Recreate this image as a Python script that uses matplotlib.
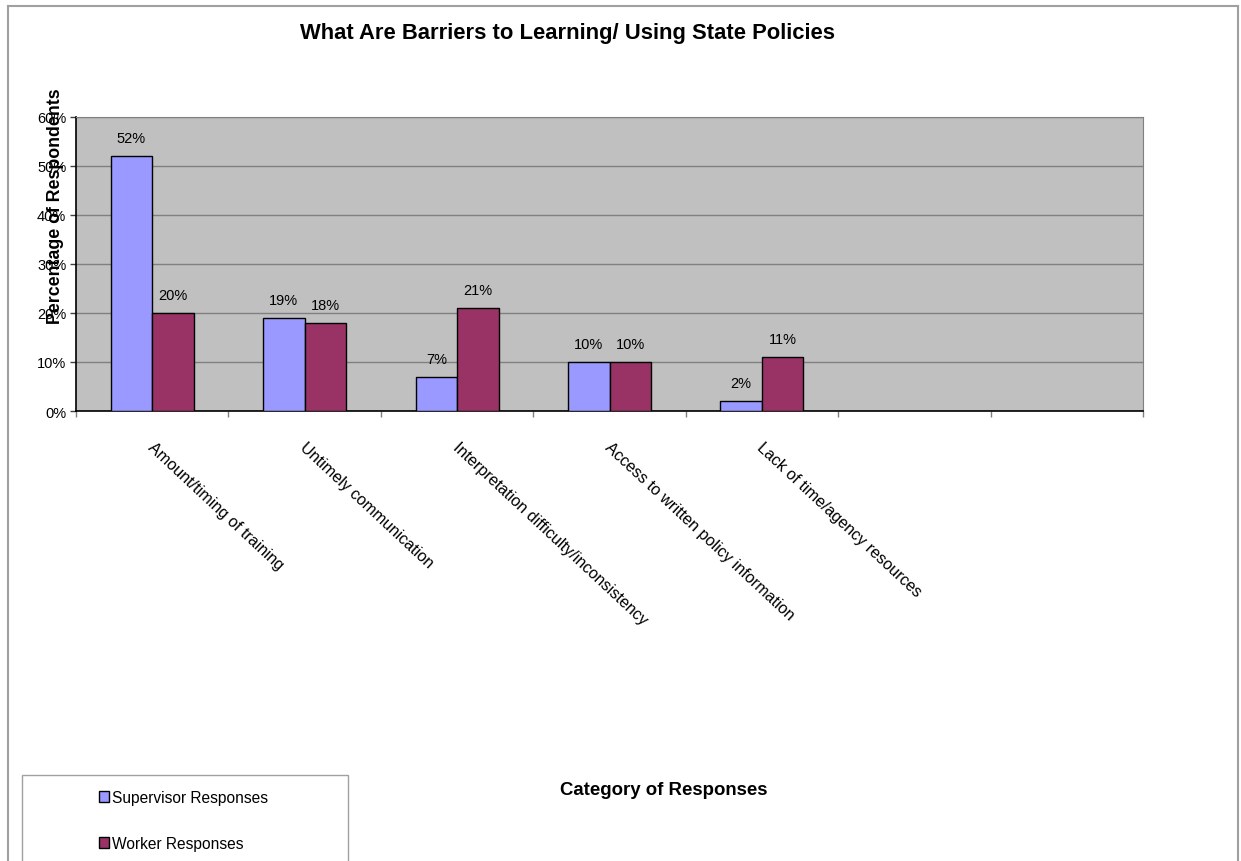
import matplotlib
import matplotlib.pyplot as plt
from matplotlib.lines import Line2D
from matplotlib.patches import Rectangle, Patch
import numpy as np

matplotlib.use("Agg")
plt.rcParams["font.family"] = ["Liberation Sans", "DejaVu Sans"]

categories = [
    "Amount/timing of training",
    "Untimely communication",
    "Interpretation difficulty/inconsistency",
    "Access to written policy information",
    "Lack of time/agency resources",
    "",
    "",
]
supervisor = [52, 19, 7, 10, 2]
worker = [20, 18, 21, 10, 11]
y_ticks = [0, 10, 20, 30, 40, 50, 60]

W, H = 1241, 862
fig = plt.figure(figsize=(W / 100, H / 100), dpi=100)
ax = fig.add_axes([76 / W, 1 - 412 / H, (1143 - 76) / W, (412 - 117.5) / H])
ax.set_facecolor("#C0C0C0")

bw = 0.272
x = np.arange(len(supervisor))
b1 = ax.bar(x - bw / 2, supervisor, bw, color="#9999FF", edgecolor="black",
            linewidth=1, zorder=3)
b2 = ax.bar(x + bw / 2, worker, bw, color="#993366", edgecolor="black",
            linewidth=1, zorder=3)
for bars in (b1, b2):
    for rect in bars:
        h = rect.get_height()
        ax.annotate(f"{h:.0f}%", (rect.get_x() + rect.get_width() / 2, h),
                    xytext=(0, 8), textcoords="offset points",
                    ha="center", va="bottom", fontsize=10.5)

ax.set_xlim(-0.5, len(categories) - 0.5)
ax.set_ylim(0, 60)
ax.set_yticks(y_ticks)
ax.set_yticklabels([f"{v}%" for v in y_ticks], fontsize=10.5)
ax.yaxis.grid(True, color="#808080", linewidth=1, zorder=1)
ax.set_axisbelow(True)
ax.set_xticks(np.arange(len(categories) + 1) - 0.5)
ax.set_xticklabels([])
ax.tick_params(axis="x", length=4, color="#808080", width=1)
ax.tick_params(axis="y", length=4, color="#404040", width=1, pad=3)

for s in ("top", "right"):
    ax.spines[s].set_color("#808080")
for s in ("left", "bottom"):
    ax.spines[s].set_color("black")
    ax.spines[s].set_linewidth(1.2)

# rotated category labels
for i, lab in enumerate(categories):
    if lab:
        ax.annotate(lab, (i, 0), xytext=(2, -20), textcoords="offset points",
                    rotation=-43, rotation_mode="anchor", ha="left", va="top",
                    fontsize=11.6)

fig.text(567 / W, 1 - 33 / H, "What Are Barriers to Learning/ Using State Policies",
         ha="center", va="center", fontsize=15.8, fontweight="bold")
fig.text(56 / W, 1 - 206 / H, "Percentage of Respondents", rotation=90,
         ha="center", va="center", fontsize=12.8, fontweight="bold")
fig.text(664 / W, 1 - 791 / H, "Category of Responses",
         ha="center", va="center", fontsize=13.4, fontweight="bold")

# chart border
border = dict(color="#A0A0A0", linewidth=1.5, transform=fig.transFigure)
fig.add_artist(Line2D([8 / W, 8 / W], [0, 1 - 7 / H], **border))
fig.add_artist(Line2D([8 / W, 1238 / W], [1 - 7 / H, 1 - 7 / H], **border))
fig.add_artist(Line2D([1238 / W, 1238 / W], [0, 1 - 7 / H], **border))

# legend box
fig.add_artist(Rectangle((22 / W, -0.05), (348 - 22) / W, 0.05 + 1 - 776 / H,
                         transform=fig.transFigure, facecolor="white",
                         edgecolor="#A0A0A0", linewidth=1))
handles = [Patch(facecolor="#9999FF", edgecolor="black"),
           Patch(facecolor="#993366", edgecolor="black")]
fig.legend(handles, ["Supervisor Responses", "Worker Responses"],
           loc="upper left", bbox_to_anchor=(99 / W, 1 - 791 / H),
           frameon=False, fontsize=11.2, handlelength=0.65, handleheight=0.65,
           handletextpad=0.2, labelspacing=2.0, borderpad=0, borderaxespad=0)

fig.savefig("out.png", dpi=100)
